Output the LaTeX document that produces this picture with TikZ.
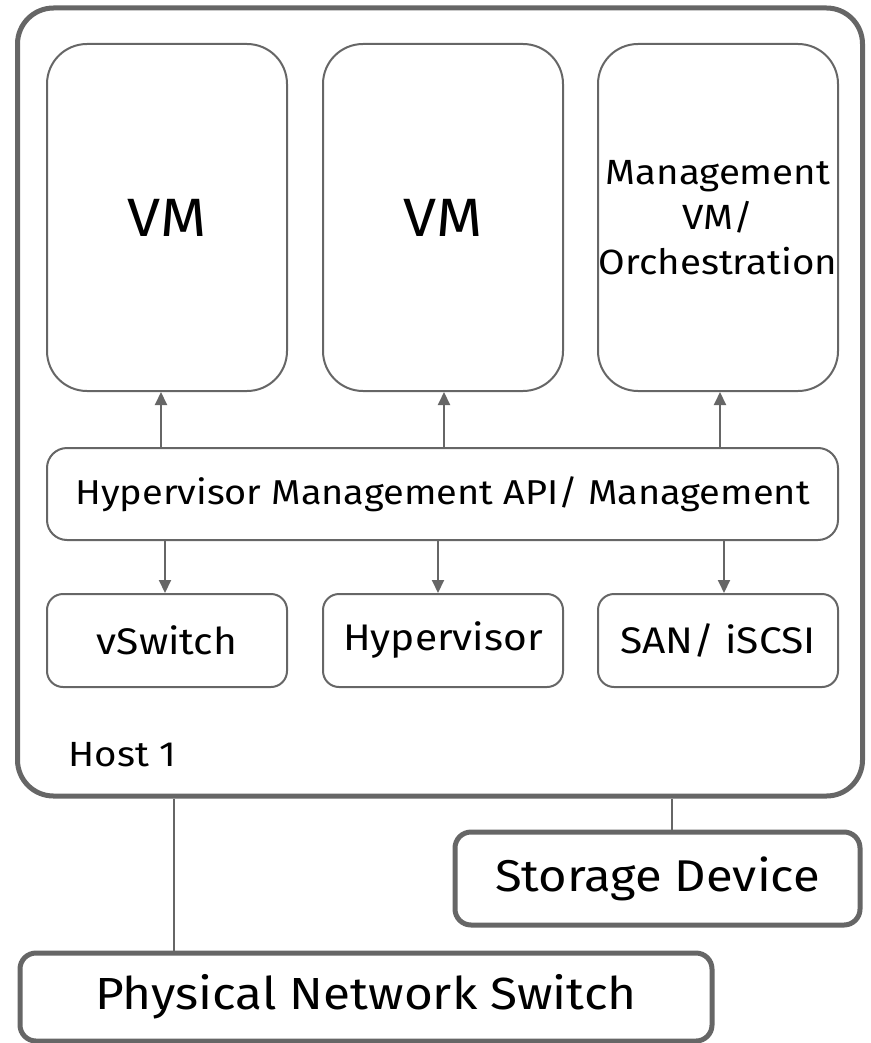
\documentclass[tikz,border=0pt]{standalone}
\usepackage{fontspec}
\setmainfont{Fira Sans}[FakeStretch=1.1]
\usetikzlibrary{arrows.meta}
\definecolor{edge}{HTML}{666666}
\newcommand{\fs}[1]{\fontsize{#1}{1.2\dimexpr#1pt\relax}\selectfont}
\tikzset{
  x=1pt, y=-1pt,
  box/.style={draw=edge, line width=2pt, rounded corners=#1, inner sep=0pt, align=center, text=black},
  box/.default=18pt,
  heavy/.style={draw=edge, line width=5pt, rounded corners=16pt, inner sep=0pt, align=center, text=black},
  link/.style={draw=edge, line width=2.5pt},
  arr/.style={draw=edge, line width=2pt, -{Triangle[width=12pt,length=13pt]}},
}
\begin{document}
\begin{tikzpicture}
\useasboundingbox (0,0) rectangle (870,1043);

% host frame
\node[draw=edge, line width=5pt, rounded corners=36pt, minimum width=845pt, minimum height=788pt, inner sep=0pt] (host) at (440,402) {};
\node[anchor=west, font=\fs{35}] (hostlbl) at (65,755) {Host 1};

% guest machines
\node[box=40pt, minimum width=240pt, minimum height=347pt, font=\fs{54}] (vm1) at (167,217.5) {VM};
\node[box=40pt, minimum width=240pt, minimum height=347pt, font=\fs{54}] (vm2) at (443,217.5) {VM};
\node[box=40pt, minimum width=240pt, minimum height=347pt,
      font={\fontsize{35}{45}\selectfont}] (mvm) at (718,217.5)
  {Management\\VM/\\Orchestration};

% management layer
\node[box=20pt, minimum width=791pt, minimum height=92pt, font=\fs{34.5}] (api) at (442.5,494) {Hypervisor Management API/ Management};

% lower services
\node[box=16pt, minimum width=240pt, minimum height=93pt, font=\fs{37}] (vsw) at (167,640.5) {vSwitch};
\node[box=16pt, minimum width=240pt, minimum height=93pt, font=\fs{37}] (hyp) at (443,640.5) {Hypervisor};
\node[box=16pt, minimum width=240pt, minimum height=93pt, font=\fs{37}] (san) at (718,640.5) {SAN/ iSCSI};

% arrow columns
\coordinate (u1) at (161,0); \coordinate (u2) at (444,0); \coordinate (u3) at (720,0);
\coordinate (d1) at (165,0); \coordinate (d2) at (438,0); \coordinate (d3) at (724,0);
\draw[arr] (api.north -| u1) -- (vm1.south -| u1);
\draw[arr] (api.north -| u2) -- (vm2.south -| u2);
\draw[arr] (api.north -| u3) -- (mvm.south -| u3);
\draw[arr] (api.south -| d1) -- (vsw.north -| d1);
\draw[arr] (api.south -| d2) -- (hyp.north -| d2);
\draw[arr] (api.south -| d3) -- (san.north -| d3);

% external devices
\node[heavy, minimum width=405pt, minimum height=93pt, font=\fs{44.5}] (stor) at (657.5,878.5) {Storage Device};
\node[heavy, minimum width=692pt, minimum height=88pt, font=\fs{45}] (pns) at (366,997) {Physical Network Switch};

\coordinate (tn) at (174,0); \coordinate (ts) at (672,0);
\draw[link] (host.south -| tn) -- (pns.north -| tn);
\draw[link] (host.south -| ts) -- (stor.north -| ts);
\end{tikzpicture}
\end{document}
